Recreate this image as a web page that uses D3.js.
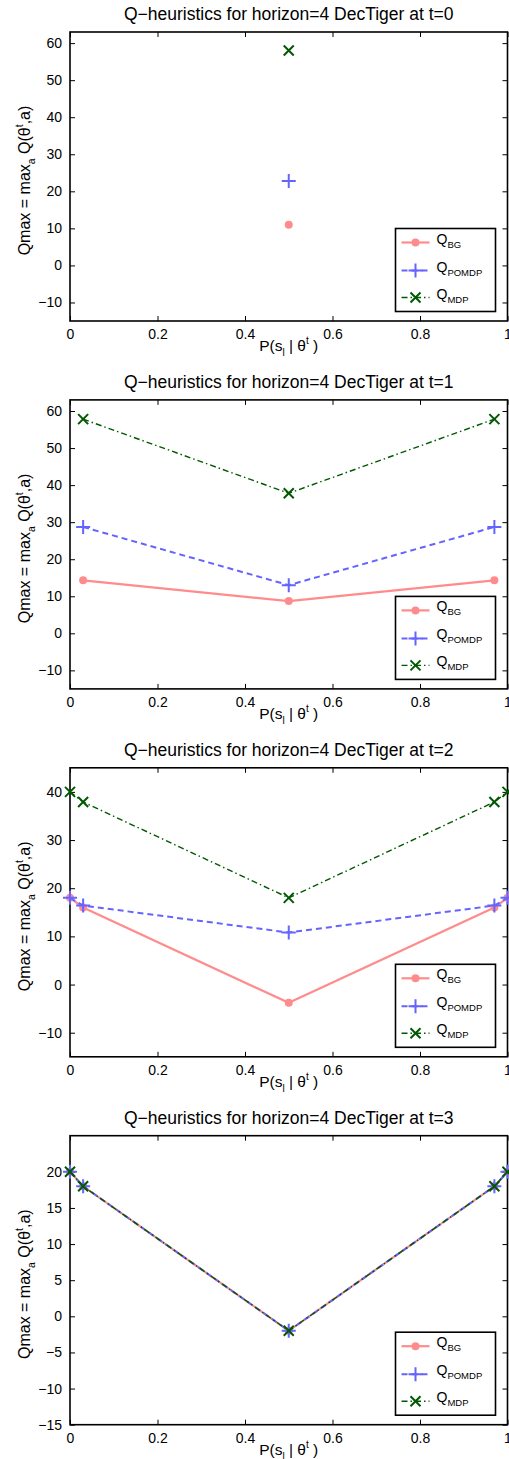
<!DOCTYPE html>
<html>
<head>
<meta charset="utf-8">
<script src="https://cdn.jsdelivr.net/npm/d3@7"></script>
<style>
  body { margin: 0; background: #fff; }
  text { font-family: "Liberation Sans", Arial, sans-serif; fill: #000; }
</style>
</head>
<body>
<svg id="chart" width="509" height="1459"></svg>
<script>
// data (t = 0..3)
const steps = [0, 1, 2, 3];
const probs = [
    [0.5],
    [0.03, 0.5, 0.97],
    [0, 0.03, 0.5, 0.97, 1],
    [0, 0.03, 0.5, 0.97, 1]
];
const qBG = [
    [11],
    [14.3, 8.7, 14.3],
    [18, 16, -3.8, 16, 18],
    [20, 18, -2, 18, 20]
];
const qPOMDP = [
    [22.8],
    [28.7, 13, 28.7],
    [18, 16.4, 10.8, 16.4, 18],
    [20, 18, -2, 18, 20]
];
const qMDP = [
    [58],
    [57.8, 37.8, 57.8],
    [40, 37.9, 18, 37.9, 40],
    [20, 18, -2, 18, 20]
];
const yDomains = [[-15, 63], [-15, 63], [-15, 45], [-15, 25]];
const yTickVals = [
    [-10, 0, 10, 20, 30, 40, 50, 60],
    [-10, 0, 10, 20, 30, 40, 50, 60],
    [-10, 0, 10, 20, 30, 40],
    [-15, -10, -5, 0, 5, 10, 15, 20]
];
const xTickVals = [0, 0.2, 0.4, 0.6, 0.8, 1];

const seriesNames = ["BG", "POMDP", "MDP"];
const seriesStyle = {
    BG:    { color: "#ff8c8c", width: 2.2, dash: null,      marker: "dot" },
    POMDP: { color: "#6464ff", width: 2,   dash: "6,4",     marker: "plus" },
    MDP:   { color: "#005800", width: 1.4, dash: "6,3,1.5,3", marker: "cross" }
};

const left = 70, right = 507.5, plotH = 289, firstTop = 32, gap = 367.9;
const svg = d3.select("#chart");
const fmt = v => (v < 0 ? "\u2212" + Math.abs(v) : String(v));

function drawMarker(g, kind, x, y, color) {
    if (kind === "dot") {
        g.append("circle").attr("cx", x).attr("cy", y).attr("r", 4).attr("fill", color);
    } else if (kind === "plus") {
        g.append("path").attr("d", `M${x - 7},${y}H${x + 7}M${x},${y - 7}V${y + 7}`)
            .attr("stroke", color).attr("stroke-width", 2).attr("fill", "none");
    } else {
        g.append("path").attr("d", `M${x - 5},${y - 5}L${x + 5},${y + 5}M${x - 5},${y + 5}L${x + 5},${y - 5}`)
            .attr("stroke", color).attr("stroke-width", 2).attr("fill", "none");
    }
}

function drawPanel(i) {
    const top = firstTop + i * gap, bottom = top + plotH;
    const x = d3.scaleLinear().domain([0, 1]).range([left, right]);
    const y = d3.scaleLinear().domain(yDomains[i]).range([bottom, top]);
    const g = svg.append("g");

    // title
    g.append("text").attr("x", (left + right) / 2).attr("y", top - 12)
        .attr("text-anchor", "middle").attr("font-size", 17.5)
        .text("Q\u2212heuristics for horizon=4 DecTiger at t=" + steps[i]);

    // axes with inward ticks, MATLAB style
    const ax = [
        d3.axisBottom(x).tickValues(xTickVals).tickSizeInner(-5).tickSizeOuter(0).tickPadding(8).tickFormat(d => String(d)),
        d3.axisTop(x).tickValues(xTickVals).tickSizeInner(-5).tickSizeOuter(0).tickFormat(""),
        d3.axisLeft(y).tickValues(yTickVals[i]).tickSizeInner(-5).tickSizeOuter(0).tickPadding(8).tickFormat(fmt),
        d3.axisRight(y).tickValues(yTickVals[i]).tickSizeInner(-5).tickSizeOuter(0).tickFormat("")
    ];
    const pos = [`translate(0,${bottom})`, `translate(0,${top})`, `translate(${left},0)`, `translate(${right},0)`];
    ax.forEach((a, k) => {
        const s = g.append("g").attr("transform", pos[k]).call(a);
        s.select(".domain").remove();
        s.selectAll("line").attr("stroke", "#000").attr("stroke-width", 1);
        s.selectAll("text").attr("font-size", 14).attr("fill", "#000")
            .style("font-family", "'Liberation Sans', Arial, sans-serif");
    });
    g.append("rect").attr("x", left).attr("y", top).attr("width", right - left).attr("height", plotH)
        .attr("fill", "none").attr("stroke", "#000").attr("stroke-width", 1.6);

    // x label
    const xl = g.append("text").attr("x", (left + right) / 2).attr("y", bottom + 30)
        .attr("text-anchor", "middle").attr("font-size", 15.5);
    xl.append("tspan").text("P(s");
    xl.append("tspan").attr("font-size", 10).attr("dy", 5).text("l");
    xl.append("tspan").attr("dy", -5).text(" | \u03b8");
    xl.append("tspan").attr("font-size", 10).attr("dy", -7).text("t");
    xl.append("tspan").attr("dy", 7).text(" )");

    // y label
    const yl = g.append("text").attr("transform", `translate(30,${top + plotH / 2 + 4}) rotate(-90)`)
        .attr("text-anchor", "middle").attr("font-size", 16);
    yl.append("tspan").text("Qmax = max");
    yl.append("tspan").attr("font-size", 10.5).attr("dy", 5).text("a");
    yl.append("tspan").attr("dy", -5).text(" Q(\u03b8");
    yl.append("tspan").attr("font-size", 10.5).attr("dy", -7).text("t");
    yl.append("tspan").attr("dy", 7).text(",a)");

    // series
    const series = { BG: qBG[i], POMDP: qPOMDP[i], MDP: qMDP[i] };
    const line = d3.line().x(d => x(d[0])).y(d => y(d[1]));
    seriesNames.forEach(name => {
        const st = seriesStyle[name];
        const pts = probs[i].map((p, k) => [p, series[name][k]]);
        if (pts.length > 1) {
            g.append("path").datum(pts).attr("d", line).attr("fill", "none")
                .attr("stroke", st.color).attr("stroke-width", st.width)
                .attr("stroke-dasharray", st.dash);
        }
        pts.forEach(d => drawMarker(g, st.marker, x(d[0]), y(d[1]), st.color));
    });

    // legend
    const lw = 100, lh = 83, lx = right - 12 - lw, ly = bottom - 9.5 - lh;
    g.append("rect").attr("x", lx).attr("y", ly).attr("width", lw).attr("height", lh)
        .attr("fill", "#fff").attr("stroke", "#000").attr("stroke-width", 1.6);
    const rowY = [14, 42, 69];
    seriesNames.forEach((name, k) => {
        const st = seriesStyle[name];
        const ry = ly + rowY[k];
        g.append("line").attr("x1", lx + 6).attr("x2", lx + 34).attr("y1", ry).attr("y2", ry)
            .attr("stroke", st.color).attr("stroke-width", st.width).attr("stroke-dasharray", st.dash);
        drawMarker(g, st.marker, lx + 20, ry, st.color);
        const t = g.append("text").attr("x", lx + 41).attr("y", ry + 1).attr("font-size", 14);
        t.append("tspan").text("Q");
        t.append("tspan").attr("font-size", 9.5).attr("dy", 4).text(name);
    });
}

steps.forEach((s, i) => drawPanel(i));
</script>
</body>
</html>
